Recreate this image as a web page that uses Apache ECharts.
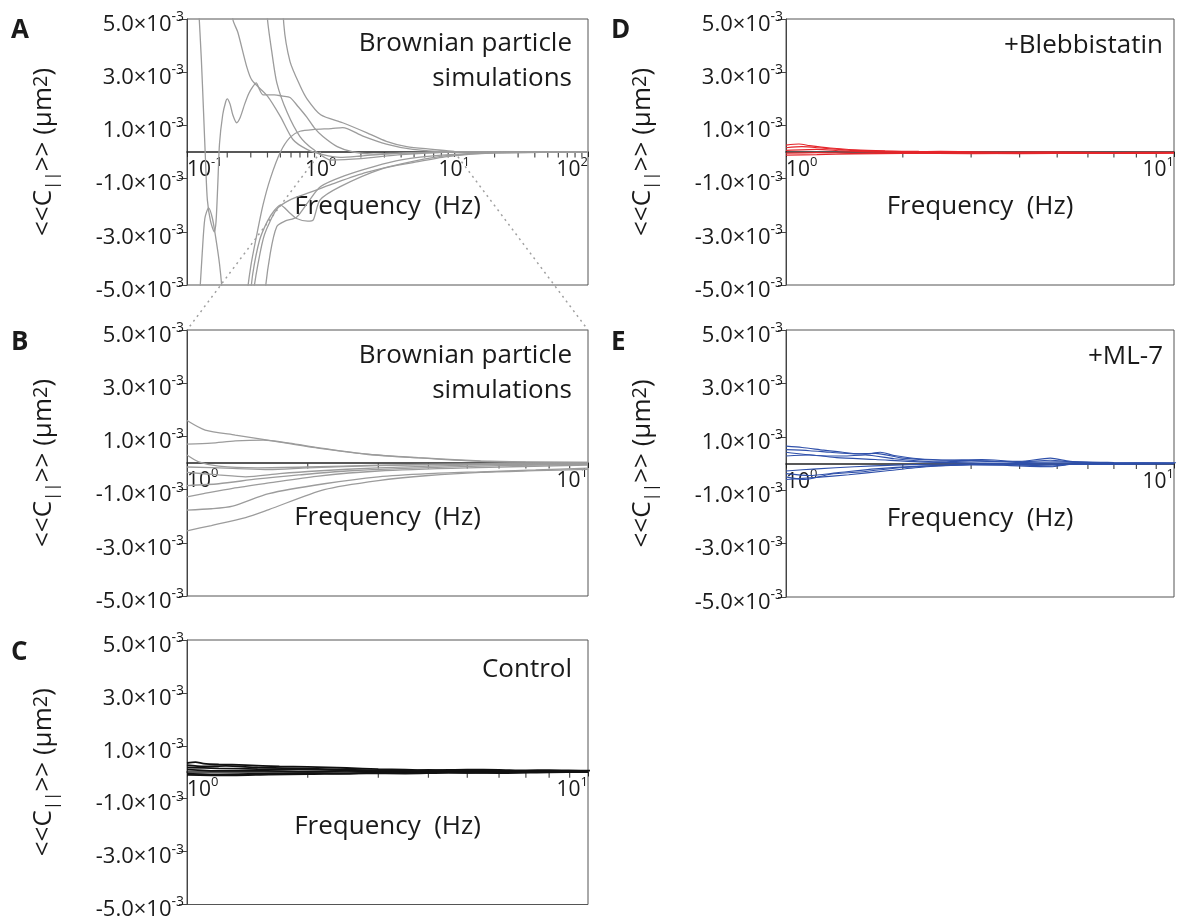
<!DOCTYPE html>
<html><head><meta charset="utf-8">
<script src="https://cdn.jsdelivr.net/npm/echarts@6/dist/echarts.min.js"></script>
<style>html,body{margin:0;padding:0;background:#fff}#c{width:1177px;height:921px}</style>
</head><body><div id="c"></div><script>
// All <<C||>> values are in units of 1e-3 µm² (axis labels carry the ×10^-3)
const yTickValues = [-5, -3, -1, 1, 3, 5];
const minorTicksA = [0.2,0.3,0.4,0.5,0.6,0.7,0.8,0.9,2,3,4,5,6,7,8,9,20,30,40,50,60,70,80,90];
const minorTicksZoom = [2,3,4,5,6,7,8,9];

// Panel A: Brownian particle simulations, 0.1–100 Hz
const simA1 = [[0.1,14],[0.115,8],[0.122,5.5],[0.128,3.5],[0.133,1.5],[0.138,-0.5],[0.142,-1.8],[0.15,-2.6],[0.16,-3.0],[0.165,-2.6],[0.17,-1.2],[0.175,0.3],[0.185,1.4],[0.195,1.9],[0.2,2.0],[0.21,1.8],[0.22,1.4],[0.235,1.1],[0.25,1.3],[0.27,1.8],[0.29,2.2],[0.31,2.45],[0.33,2.6],[0.345,2.4],[0.37,2.15],[0.45,2.15],[0.52,2.1],[0.59,2.05],[0.68,1.7],[0.79,1.3],[0.9,0.9],[1.04,0.58],[1.33,0.2],[1.75,0.0],[2.5,-0.08],[4,-0.04],[10,0],[100,0]];
const simA2 = [[0.2,8],[0.22,5.0],[0.24,4.5],[0.28,3.2],[0.306,2.7],[0.4,2.1],[0.5,1.33],[0.62,0.47],[0.79,0.1],[1.04,-0.1],[1.4,-0.2],[2,-0.15],[3,-0.08],[5,-0.02],[10,0],[100,0]];
const simA3 = [[0.37,8],[0.4,5.0],[0.43,3.8],[0.47,2.6],[0.56,1.5],[0.7,0.58],[0.88,0.1],[1.2,-0.3],[2,-0.25],[4,-0.1],[10,0],[100,0]];
const simA4 = [[0.5,8],[0.53,4.8],[0.59,3.4],[0.7,2.5],[0.79,2.0],[1.0,1.4],[1.46,1.1],[2.2,0.73],[3.1,0.4],[4.4,0.2],[6.9,0.1],[10,0.02],[100,0]];
const simA5 = [[0.26,-9],[0.28,-5.5],[0.3,-4.3],[0.33,-3.2],[0.37,-2.0],[0.42,-1.0],[0.5,0],[0.59,0.55],[0.7,0.78],[0.9,0.85],[1.2,0.88],[1.46,0.92],[2.07,0.6],[3.1,0.3],[4.9,0.1],[8.8,0.02],[100,0]];
const simA6 = [[0.1,-14],[0.118,-7],[0.125,-5.2],[0.13,-3.8],[0.136,-2.5],[0.145,-2.1],[0.155,-2.5],[0.165,-3.3],[0.175,-4.2],[0.183,-5.2],[0.2,-8],[0.25,-9],[0.29,-6],[0.31,-4.6],[0.35,-3.3],[0.4,-2.6],[0.45,-2.2],[0.5,-2.0],[0.59,-2.3],[0.66,-2.5],[0.8,-2.6],[0.88,-2.55],[0.99,-1.8],[1.4,-1.3],[2.8,-0.65],[4.9,-0.4],[8.8,-0.17],[20,-0.03],[100,0]];
const simA7 = [[0.28,-8],[0.31,-5.5],[0.34,-4.2],[0.38,-3.1],[0.47,-2.15],[0.59,-1.8],[0.83,-1.52],[1.23,-1.2],[2.2,-0.77],[4.9,-0.35],[8.8,-0.14],[20,-0.03],[100,0]];
const simA8 = [[0.36,-8],[0.38,-5.5],[0.42,-3.8],[0.47,-2.8],[0.54,-2.6],[0.66,-2.45],[0.8,-1.9],[1.0,-1.3],[1.5,-0.9],[2.5,-0.55],[4,-0.3],[8,-0.12],[20,-0.02],[100,0]];

// Panel B: Brownian particle simulations, 1–10 Hz
const simB1 = [[1,1.6],[1.11,1.24],[1.32,1.05],[1.59,0.86],[2.12,0.56],[2.83,0.33],[3.77,0.19],[5.4,0.06],[7,0.03],[10,0.02]];
const simB2 = [[1,0.71],[1.15,0.75],[1.32,0.83],[1.55,0.86],[1.8,0.75],[2.12,0.58],[2.83,0.32],[3.77,0.2],[5.4,0.08],[7,0.04],[10,0.02]];
const simB3 = [[1,0.3],[1.07,0.04],[1.2,-0.12],[1.5,-0.18],[2,-0.15],[3,-0.08],[5,-0.03],[10,-0.01]];
const simB4 = [[1,-0.15],[1.3,-0.2],[1.6,-0.25],[2,-0.18],[3,-0.1],[5,-0.05],[10,-0.02]];
const simB5 = [[1,-0.35],[1.2,-0.45],[1.4,-0.52],[1.7,-0.4],[2.1,-0.3],[3,-0.18],[5,-0.08],[10,-0.03]];
const simB6 = [[1,-0.85],[1.2,-0.78],[1.5,-0.6],[1.9,-0.45],[2.5,-0.3],[3.5,-0.2],[6,-0.1],[10,-0.05]];
const simB7 = [[1,-1.27],[1.1,-1.15],[1.3,-0.95],[1.6,-0.75],[2.1,-0.5],[3,-0.3],[5,-0.18],[10,-0.08]];
const simB8 = [[1,-1.77],[1.15,-1.72],[1.3,-1.62],[1.6,-1.15],[2.2,-0.78],[3,-0.52],[4,-0.4],[5.4,-0.33],[7.4,-0.26],[10,-0.19]];
const simB9 = [[1,-2.55],[1.15,-2.35],[1.4,-2.05],[1.6,-1.75],[2.2,-1.0],[3,-0.66],[4,-0.47],[5.4,-0.35],[7.4,-0.29],[10,-0.24]];

// Panel C: Control
const ctrl1 = [[1,0.35],[1.05,0.38],[1.1,0.33],[1.2,0.3],[1.4,0.27],[1.7,0.22],[2,0.2],[2.5,0.16],[3,0.12],[3.5,0.1],[4,0.08],[5,0.1],[6,0.09],[7,0.07],[8,0.08],[10,0.06],[10.5,0.06]];
const ctrl2 = [[1,0.27],[1.1,0.22],[1.25,0.24],[1.5,0.18],[2,0.14],[2.5,0.1],[3,0.06],[3.5,0.05],[4,0.09],[4.5,0.05],[5.5,0.02],[7,0.05],[8.5,0.03],[10,0.05]];
const ctrl3 = [[1,0.1],[1.2,0.05],[1.5,0.06],[2,0.02],[2.5,0.05],[3,0.02],[4,0.0],[5,0.04],[6,0.02],[8,0.04],[10,0.03]];
const ctrl4 = [[1,-0.05],[1.2,-0.08],[1.5,-0.06],[2,-0.03],[2.5,-0.05],[3,0.0],[4,0.03],[5,-0.02],[6,0.0],[8,0.02],[10,0.02]];
const ctrl5 = [[1,-0.1],[1.3,-0.12],[1.6,-0.09],[2,-0.07],[2.8,-0.04],[3.5,-0.05],[4.5,-0.02],[6,-0.03],[8,0],[10,0.01]];
const ctrl6 = [[1,0.18],[1.2,0.15],[1.5,0.12],[2,0.1],[3,0.06],[4,0.05],[5,0.06],[7,0.04],[10,0.04]];

// Panel D: +Blebbistatin
const bleb1 = [[1,0.26],[1.08,0.3],[1.15,0.24],[1.3,0.15],[1.5,0.08],[1.8,0.04],[2.2,0.02],[3,0.0],[4,-0.02],[5,-0.01],[7,-0.03],[10,-0.02]];
const bleb2 = [[1,0.16],[1.1,0.2],[1.25,0.14],[1.5,0.06],[2,0.01],[2.5,-0.02],[3.5,-0.04],[5,-0.03],[7,-0.05],[10,-0.03]];
const bleb3 = [[1,0.06],[1.2,0.1],[1.4,0.04],[1.8,0.0],[2.5,0.02],[3.5,-0.01],[5,0.0],[7,-0.02],[10,-0.01]];
const bleb4 = [[1,-0.04],[1.2,-0.02],[1.5,-0.05],[2,-0.02],[3,-0.04],[4,-0.06],[6,-0.04],[8,-0.05],[10,-0.03]];
const bleb5 = [[1,-0.12],[1.2,-0.1],[1.5,-0.07],[2,-0.05],[3,-0.06],[5,-0.05],[7,-0.03],[10,-0.02]];

// Panel E: +ML-7
const ml1 = [[1,0.65],[1.1,0.6],[1.25,0.5],[1.4,0.42],[1.6,0.35],[1.75,0.42],[1.9,0.3],[2.2,0.18],[2.7,0.12],[3.3,0.1],[4,0.06],[4.8,0.12],[5.5,0.05],[7,0.02],[10,0.03],[11,0.03]];
const ml2 = [[1,0.52],[1.15,0.48],[1.3,0.42],[1.5,0.36],[1.7,0.38],[2,0.2],[2.5,0.12],[3.2,0.15],[4,0.08],[4.8,0.2],[5.4,0.08],[7,0.04],[10,0.02]];
const ml3 = [[1,0.42],[1.2,0.3],[1.4,0.28],[1.6,0.32],[1.9,0.18],[2.5,0.06],[3,0.1],[4,0.04],[5,0.06],[7,0.01],[10,0.0]];
const ml4 = [[1,0.28],[1.15,0.32],[1.35,0.22],[1.7,0.15],[2.2,0.06],[3,0.03],[4,0.0],[5,0.02],[7,0.0],[10,0.0]];
const ml5 = [[1,-0.28],[1.2,-0.2],[1.5,-0.12],[1.9,-0.06],[2.5,-0.02],[3.5,0.0],[4.8,-0.1],[5.5,-0.02],[7,0.0],[10,0.0]];
const ml6 = [[1,-0.38],[1.15,-0.45],[1.35,-0.35],[1.7,-0.2],[2.2,-0.1],[3,-0.04],[4.8,-0.12],[5.5,-0.03],[8,-0.02],[10,-0.01]];
const ml7 = [[1,-0.5],[1.12,-0.6],[1.3,-0.4],[1.6,-0.3],[2,-0.15],[2.7,-0.06],[4,-0.02],[6,-0.04],[10,-0.01]];
const ml8 = [[1,-0.6],[1.2,-0.52],[1.45,-0.42],[1.8,-0.28],[2.3,-0.12],[3,-0.05],[4.5,-0.06],[6,-0.02],[10,0.0]];

const panelTexts = ['Brownian particle\nsimulations', 'Brownian particle\nsimulations', 'Control', '+Blebbistatin', '+ML-7'];
const panelLetters = ['A', 'B', 'C', 'D', 'E'];
const xRanges = [[0.1, 100], [1, 10], [1, 10], [1, 10], [1, 10]];

const FONT = 'Open Sans';
const panels = [
  {curves: [simA1, simA2, simA3, simA4, simA5, simA6, simA7, simA8], color: '#9c9c9c', width: 1.3, minor: minorTicksA},
  {curves: [simB1, simB2, simB3, simB4, simB5, simB6, simB7, simB8, simB9], color: '#9c9c9c', width: 1.3, minor: minorTicksZoom},
  {curves: [ctrl1, ctrl2, ctrl3, ctrl4, ctrl5, ctrl6], color: '#111111', width: 1.8, minor: minorTicksZoom},
  {curves: [bleb1, bleb2, bleb3, bleb4, bleb5], color: '#e5262b', width: 1.2, minor: minorTicksZoom},
  {curves: [ml1, ml2, ml3, ml4, ml5, ml6, ml7, ml8], color: '#2f50aa', width: 1.1, minor: minorTicksZoom}
];
const gridRects = [
  {left: 187, top: 19, width: 401, height: 266},
  {left: 187, top: 330, width: 401, height: 266},
  {left: 187, top: 640, width: 401, height: 266},
  {left: 786, top: 19, width: 402, height: 266},
  {left: 786, top: 330, width: 402, height: 267}
];
const textAnchors = [[572, 26], [572, 338], [572, 652], [1163, 28], [1163, 339]];
const letterAnchors = [[11, 31], [11, 343], [11, 653], [611, 31], [611, 343]];

const INK = '#1a1a1a';
const yRich = {
  b: {fontSize: 22, lineHeight: 33, verticalAlign: 'bottom', color: INK, fontFamily: FONT},
  s: {fontSize: 14, lineHeight: 14, verticalAlign: 'top', padding: [7.5, 0, 0, 0], color: INK, fontFamily: FONT}
};
const xRich = {
  b: {fontSize: 21, lineHeight: 25, verticalAlign: 'bottom', color: INK, fontFamily: FONT},
  s: {fontSize: 13, lineHeight: 13, verticalAlign: 'top', color: INK, fontFamily: FONT}
};
const nameRich = {
  t: {fontSize: 26, lineHeight: 34, verticalAlign: 'top', color: INK, fontFamily: FONT},
  sub: {fontSize: 17, lineHeight: 17, verticalAlign: 'top', padding: [13, 0, 0, 0], color: INK, fontFamily: FONT},
  sup: {fontSize: 20, lineHeight: 20, verticalAlign: 'top', color: INK, fontFamily: FONT}
};

const grid = [], xAxis = [], yAxis = [], series = [];
panels.forEach((p, i) => {
  grid.push(Object.assign({show: true, borderColor: '#555', borderWidth: 1, backgroundColor: 'transparent'}, gridRects[i]));
  xAxis.push({
    type: 'log', logBase: 10, gridIndex: i, min: xRanges[i][0], max: xRanges[i][1],
    position: 'bottom', offset: -gridRects[i].height / 2,
    axisLine: {onZero: false, lineStyle: {color: '#222', width: 1.5}},
    axisTick: {show: true, inside: false, length: 5, lineStyle: {color: '#222'}},
    splitLine: {show: false}, minorTick: {show: false},
    axisLabel: {
      margin: 4, showMinLabel: true, showMaxLabel: true,
      alignMinLabel: 'left', alignMaxLabel: 'right',
      formatter: v => '{b|10}{s|' + Math.round(Math.log10(v)) + '}',
      rich: xRich
    },
    name: 'Frequency  (Hz)', nameLocation: 'middle', nameGap: 42,
    nameTextStyle: {fontSize: 26, color: INK, fontFamily: FONT}
  });
  yAxis.push({
    type: 'value', gridIndex: i, min: -5, max: 5, interval: 2,
    axisLine: {show: true, onZero: false, lineStyle: {color: '#444'}},
    axisTick: {show: true, inside: false, length: 8, lineStyle: {color: '#444'}},
    splitLine: {show: false},
    axisLabel: {
      margin: 3,
      formatter: v => '{b|' + v.toFixed(1) + '×10}{s|-3}',
      rich: yRich
    },
    name: '{t|<<C}{sub|||}{t|>> (μm}{sup|2}{t|)}',
    nameLocation: 'middle', nameGap: 122, nameRotate: 90,
    nameTextStyle: {rich: nameRich, fontSize: 26, color: INK, fontFamily: FONT}
  });
  p.curves.forEach(c => {
    series.push({
      type: 'line', xAxisIndex: i, yAxisIndex: i, data: c,
      showSymbol: false, symbol: 'none', smooth: 0.25, silent: true, clip: true,
      lineStyle: {color: p.color, width: p.width}, z: 3
    });
  });
  series.push({
    type: 'scatter', xAxisIndex: i, yAxisIndex: i, silent: true,
    data: p.minor.map(t => [t, 0]),
    symbol: 'rect', symbolSize: [1.2, 5], symbolOffset: [0, 3],
    itemStyle: {color: '#222'}, z: 2
  });
});

const graphic = [];
panelTexts.forEach((t, i) => {
  graphic.push({
    type: 'text', id: 'txt' + i, x: textAnchors[i][0], y: textAnchors[i][1], silent: true,
    style: {text: t, textAlign: 'right', textVerticalAlign: 'top', verticalAlign: 'top', lineHeight: 35,
      fontSize: 26, fontFamily: FONT, fill: INK}
  });
});
panelLetters.forEach((t, i) => {
  graphic.push({
    type: 'text', id: 'let' + i, x: letterAnchors[i][0], y: letterAnchors[i][1], silent: true,
    style: {text: t, textAlign: 'left', textVerticalAlign: 'middle', verticalAlign: 'middle',
      fontSize: 26, fontWeight: 'bold', fontFamily: FONT, fill: INK}
  });
});

const chart = echarts.init(document.getElementById('c'), null, {renderer: 'canvas'});
chart.setOption({
  animation: false, backgroundColor: '#fff',
  textStyle: {fontFamily: FONT},
  grid, xAxis, yAxis, series, graphic
});

// Dotted zoom guides from panel A (1 Hz and 10 Hz on the zero line) to panel B's top corners
const a1 = chart.convertToPixel({xAxisIndex: 0, yAxisIndex: 0}, [1, 0]);
const a10 = chart.convertToPixel({xAxisIndex: 0, yAxisIndex: 0}, [10, 0]);
const b1 = chart.convertToPixel({xAxisIndex: 1, yAxisIndex: 1}, [1, 5]);
const b10 = chart.convertToPixel({xAxisIndex: 1, yAxisIndex: 1}, [10, 5]);
chart.setOption({
  graphic: [
    {type: 'line', id: 'guideL', silent: true, z: 1, shape: {x1: a1[0], y1: a1[1], x2: b1[0], y2: b1[1]},
      style: {stroke: '#a0a0a0', lineWidth: 1.5, lineDash: [2, 4]}},
    {type: 'line', id: 'guideR', silent: true, z: 1, shape: {x1: a10[0], y1: a10[1], x2: b10[0], y2: b10[1]},
      style: {stroke: '#a0a0a0', lineWidth: 1.5, lineDash: [2, 4]}}
  ]
});
</script></body></html>
